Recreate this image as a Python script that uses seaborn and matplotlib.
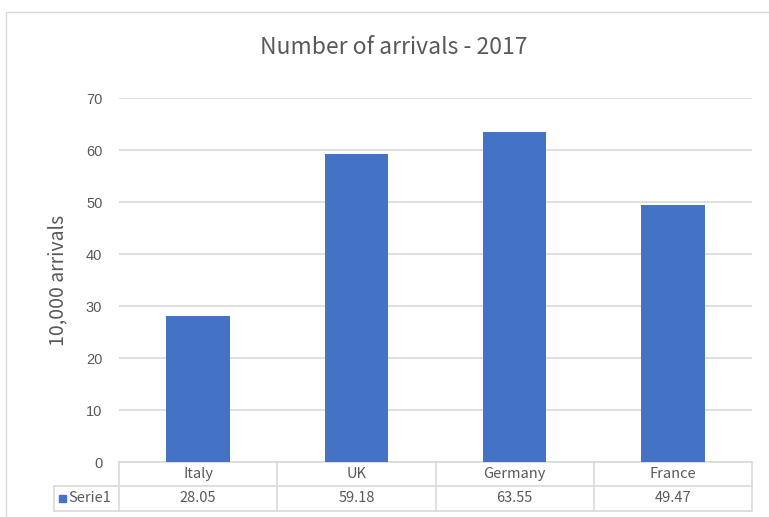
import matplotlib
matplotlib.use('Agg')
import matplotlib.pyplot as plt
import seaborn as sns
import pandas as pd
from matplotlib.patches import Rectangle

countries = ['Italy', 'UK', 'Germany', 'France']
arrivals = [28.05, 59.18, 63.55, 49.47]
series_name = 'Serie1'
title = 'Number of arrivals - 2017'
ylabel = '10,000 arrivals'

df = pd.DataFrame({'Country': countries, 'Arrivals': arrivals})

sns.set_style('white')
plt.rcParams['font.family'] = ['Noto Sans CJK SC', 'DejaVu Sans']

W, H = 769, 517
fig = plt.figure(figsize=(W / 100, H / 100), dpi=100)
fig.patch.set_facecolor('white')

def fx(px):
    return px / W

def fy(py):
    return 1 - py / H

# chart border
fig.add_artist(Rectangle((fx(6), fy(530)), fx(800) - fx(6), fy(12) - fy(530),
                         transform=fig.transFigure, fill=False,
                         edgecolor='#d9d9d9', linewidth=1))

left, right, top, bottom = 119, 752, 98, 462
ax = fig.add_axes([fx(left), fy(bottom), fx(right) - fx(left), fy(top) - fy(bottom)])
sns.barplot(data=df, x='Country', y='Arrivals', color='#4472C4', width=0.4,
            saturation=1, linewidth=0, ax=ax, zorder=3)
ax.set_xlim(-0.5, len(countries) - 0.5)
ax.set_ylim(0, 70)
ax.set_yticks(range(0, 71, 10))
ax.yaxis.grid(True, color='#d9d9d9', linewidth=1.2, zorder=0)
for s in ['top', 'right', 'left']:
    ax.spines[s].set_visible(False)
ax.spines['bottom'].set_color('#d9d9d9')
ax.spines['bottom'].set_linewidth(1.2)
ax.set_xticks([])
ax.set_xlabel('')
ax.set_ylabel('')
ax.tick_params(axis='y', length=0, pad=12, labelsize=10.5, labelcolor='#595959')
for lab in ax.get_yticklabels():
    lab.set_family(['Liberation Sans', 'DejaVu Sans'])

fig.text(fx(394), fy(47), title, ha='center', va='center', fontsize=16.5,
         color='#595959', fontweight='light')
fig.text(fx(58), fy(280), ylabel, ha='center', va='center', rotation=90,
         fontsize=14, color='#595959', fontweight='light')

# data table below the axis
tab_left, row1, row2, row3 = 54, 462, 486, 511
col_w = (right - left) / len(countries)
lc = '#d9d9d9'

def hline(x0, x1, y):
    fig.add_artist(plt.Line2D([fx(x0), fx(x1)], [fy(y), fy(y)], color=lc, lw=1.2))

def vline(x, y0, y1):
    fig.add_artist(plt.Line2D([fx(x), fx(x)], [fy(y0), fy(y1)], color=lc, lw=1.2))

hline(tab_left, right, row2)
hline(tab_left, right, row3)
vline(tab_left, row2, row3)
for i in range(len(countries) + 1):
    vline(left + i * col_w, row1, row3)

for i, (c, v) in enumerate(zip(countries, arrivals)):
    cx = left + (i + 0.5) * col_w
    fig.text(fx(cx), fy((row1 + row2) / 2), c, ha='center', va='center',
             fontsize=10.5, color='#595959')
    fig.text(fx(cx), fy((row2 + row3) / 2), f'{v:.2f}', ha='center', va='center',
             fontsize=10.5, color='#595959')

fig.add_artist(Rectangle((fx(59), fy(502)), fx(7), fy(495) - fy(502),
                         transform=fig.transFigure, color='#4472C4'))
fig.text(fx(68), fy((row2 + row3) / 2), series_name, ha='left', va='center',
         fontsize=10.5, color='#595959')

plt.savefig('out.png', dpi=100)
